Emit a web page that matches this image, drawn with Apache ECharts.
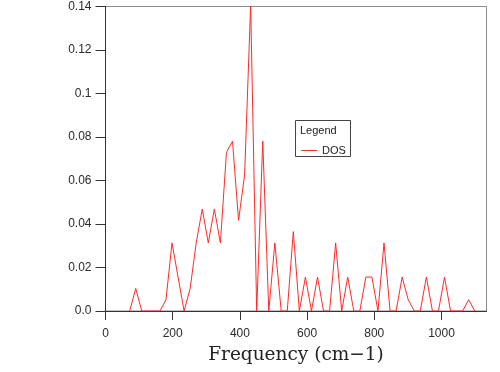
<!DOCTYPE html>
<html>
<head>
<meta charset="utf-8">
<script src="https://cdn.jsdelivr.net/npm/echarts@6/dist/echarts.min.js"></script>
<style>html,body{margin:0;padding:0;background:#fff}#c{width:500px;height:372px}</style>
</head>
<body>
<div id="c"></div>
<script>
var frequencies = [72, 90, 108, 126, 144, 162, 180, 198, 216, 234, 252, 270, 288, 306, 324, 342, 360, 378, 396, 414, 432, 450, 468, 486, 504, 523, 541, 559, 577, 595, 613, 631, 649, 667, 685, 703, 721, 739, 757, 775, 793, 811, 829, 847, 865, 883, 901, 919, 937, 955, 973, 991, 1009, 1027, 1045, 1063, 1081, 1099];
var dosValues = [0, 0.0104, 0, 0, 0, 0, 0.0052, 0.0313, 0.0156, 0, 0.0104, 0.0313, 0.0469, 0.0313, 0.0469, 0.0313, 0.0729, 0.0781, 0.0417, 0.0625, 0.1406, 0, 0.0781, 0, 0.0313, 0, 0, 0.0365, 0, 0.0156, 0, 0.0156, 0, 0, 0.0313, 0, 0.0156, 0, 0, 0.0156, 0.0156, 0, 0.0313, 0, 0, 0.0156, 0.0052, 0, 0, 0.0156, 0, 0, 0.0156, 0, 0, 0, 0.0052, 0];
var seriesName = 'DOS';
var xTitle = 'Frequency (cm\u22121)';
var legendTitle = 'Legend';

var data = frequencies.map(function (f, i) { return [f, dosValues[i]]; });
var chart = echarts.init(document.getElementById('c'), null, {renderer: 'canvas'});
chart.setOption({
  animation: false,
  backgroundColor: '#fff',
  grid: {left: 105.5, right: 13.5, top: 6.5, bottom: 61, containLabel: false, outerBoundsMode: 'none',
    show: true, borderColor: '#8a8a8a', borderWidth: 1},
  xAxis: {
    type: 'value', min: 0, max: 1134, interval: 200,
    name: xTitle, nameLocation: 'middle', nameGap: 35,
    nameTextStyle: {fontFamily: 'DejaVu Serif', fontSize: 18.5, color: '#222'},
    axisLine: {show: true, onZero: false, lineStyle: {color: '#333', width: 1}},
    axisTick: {show: true, inside: false, length: 9, lineStyle: {color: '#333'}},
    axisLabel: {margin: 17, fontFamily: 'Liberation Sans', fontSize: 12, color: '#2a2a2a', showMaxLabel: false,
      formatter: function (v) { return String(v); }},
    splitLine: {show: false}
  },
  yAxis: {
    type: 'value', min: 0, max: 0.14, interval: 0.02,
    axisLine: {show: true, lineStyle: {color: '#333', width: 1}},
    axisTick: {show: true, inside: false, length: 10, lineStyle: {color: '#333'}},
    axisLabel: {margin: 14, fontFamily: 'Liberation Sans', fontSize: 12, color: '#2a2a2a',
      formatter: function (v) { return v === 0 ? '0.0' : String(+v.toFixed(2)); }},
    splitLine: {show: false}
  },
  legend: {
    data: [{name: seriesName, icon: 'rect'}], left: 301, top: 145, itemWidth: 16, itemHeight: 1, itemGap: 5,
    padding: 0, textStyle: {fontFamily: 'Liberation Sans', fontSize: 11, color: '#222', padding: [0, 0, 0, 0]}
  },
  graphic: [
    {type: 'rect', shape: {x: 295.5, y: 120.5, width: 55, height: 36}, style: {fill: 'rgba(255,255,255,0)', stroke: '#444', lineWidth: 1}, z: 100},
    {type: 'text', left: 300, top: 125, style: {text: legendTitle, font: '11px "Liberation Sans"', fill: '#222'}, z: 100}
  ],
  series: [{
    name: seriesName, type: 'line', data: data, symbol: 'none',
    lineStyle: {color: '#ff2a2a', width: 1}, itemStyle: {color: '#ff2a2a'}
  }]
});
</script>
</body>
</html>
